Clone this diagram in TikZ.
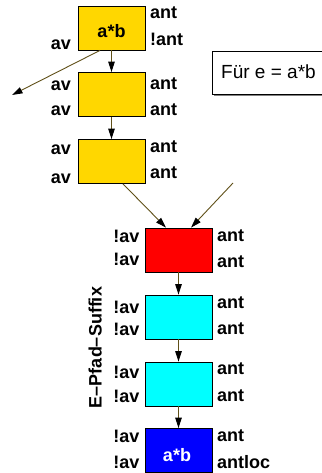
\documentclass[tikz,border=0pt]{standalone}
\usepackage{fontspec}
\setmainfont{Liberation Sans}
\usetikzlibrary{arrows.meta}
\definecolor{gold}{RGB}{255,215,0}
\definecolor{boxred}{RGB}{255,0,0}
\definecolor{boxcyan}{RGB}{0,255,255}
\definecolor{boxblue}{RGB}{0,0,255}
\definecolor{shadowgray}{RGB}{128,128,128}
\definecolor{arrowcol}{RGB}{96,80,24}
\begin{document}
\begin{tikzpicture}[x=1pt,y=-1pt,
  box/.style={draw=black,line width=0.8pt,minimum width=67pt,minimum height=44pt,inner sep=0pt},
  lbl/.style={inner sep=0pt,font=\bfseries\fontsize{18}{20}\selectfont},
  rl/.style={lbl,anchor=base west},
  ll/.style={lbl,anchor=base east},
  arr/.style={draw=arrowcol,line width=0.9pt,-{Triangle[length=10.5pt,width=6.5pt,black]}}]
\useasboundingbox (0,0) rectangle (321,473);
% upper yellow boxes
\node[box,fill=gold] (b1) at (111.5,28) {};
\node[box,fill=gold] (b2) at (111.5,94.5) {};
\node[box,fill=gold] (b3) at (111.5,161.5) {};
% lower boxes
\node[box,fill=boxred] (red) at (178.5,250) {};
\node[box,fill=boxcyan] (cy1) at (178.5,317) {};
\node[box,fill=boxcyan] (cy2) at (178.5,384) {};
\node[box,fill=boxblue] (blue) at (178.5,450.5) {};
% texts inside boxes
\node[lbl,anchor=base] (ab1) at (111.5,38) {a*b};
\node[lbl,anchor=base,text=white] (ab2) at (177,461) {a*b};
% labels box1
\node[rl] (b1r1) at (150,19) {ant};
\node[rl] (b1r2) at (150,46) {!ant};
\node[ll] (b1l2) at (71,50) {av};
% labels box2
\node[ll] (b2l1) at (71,91) {av};
\node[ll] (b2l2) at (71,116) {av};
\node[rl] (b2r1) at (150,90) {ant};
\node[rl] (b2r2) at (150,116) {ant};
% labels box3
\node[ll] (b3l1) at (71,154) {av};
\node[ll] (b3l2) at (71,183) {av};
\node[rl] (b3r1) at (150,153) {ant};
\node[rl] (b3r2) at (150,178) {ant};
% labels red
\node[ll] (rl1) at (139.5,242) {!av};
\node[ll] (rl2) at (139.5,265) {!av};
\node[rl] (rr1) at (217,241) {ant};
\node[rl] (rr2) at (217,267) {ant};
% labels cyan1
\node[ll] (c1l1) at (139.5,313) {!av};
\node[ll] (c1l2) at (139.5,335) {!av};
\node[rl] (c1r1) at (217,308) {ant};
\node[rl] (c1r2) at (217,334) {ant};
% labels cyan2
\node[ll] (c2l1) at (139.5,378) {!av};
\node[ll] (c2l2) at (139.5,402) {!av};
\node[rl] (c2r1) at (217,374) {ant};
\node[rl] (c2r2) at (217,401) {ant};
% labels blue
\node[ll] (bll1) at (139.5,442) {!av};
\node[ll] (bll2) at (139.5,468) {!av};
\node[rl] (blr1) at (217,441) {ant};
\node[rl] (blr2) at (217,468) {antloc};
% vertical label
\node[lbl,rotate=90,anchor=base] (epfad) at (101.5,347.5) {E–Pfad–Suffix};
% Fuer box (extends past the right edge) with shadow
\fill[shadowgray] (214,53) rectangle (350,96);
\node[draw=black,line width=0.8pt,fill=white,anchor=north west,
  minimum width=138pt,minimum height=43pt,inner sep=0pt] (fuer) at (212,51) {};
\node[anchor=base west,inner sep=0pt,font=\fontsize{19}{21}\selectfont] (fuertxt) at (221,79) {Für e = a*b};
% connectors
\coordinate (leftend) at (12,95);
\coordinate (rstart) at (233,183);
\draw[arr] (b1) -- (b2);
\draw[arr] ([xshift=-11.5pt]b1.south) -- (leftend);
\draw[arr] (b2) -- (b3);
\draw[arr] ([xshift=11.5pt]b3.south) -- ([xshift=-12.5pt]red.north);
\draw[arr] (rstart) -- ([xshift=12.5pt]red.north);
\draw[arr] (red) -- (cy1);
\draw[arr] (cy1) -- (cy2);
\draw[arr] (cy2) -- (blue);
\end{tikzpicture}
\end{document}
